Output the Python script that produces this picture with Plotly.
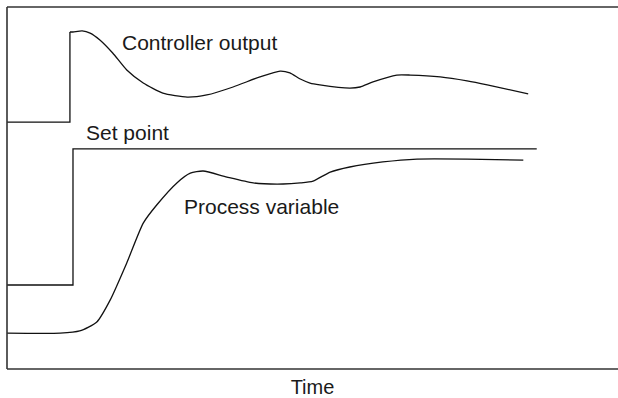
import plotly.graph_objects as go

# Controller output: step then a damped wave
co_step_t = [0, 10.3, 10.3]
co_step_y = [68.2, 68.2, 93.1]
co_t = [10.3, 10.8, 12.3, 13.6, 15.2, 17.3, 19.6, 22.3, 25.5, 29.5, 32.7, 37.0, 41.4, 44.7,
        46.3, 48.0, 49.6, 51.2, 56.1, 57.8, 59.9, 63.8, 66.0, 70.9, 75.3, 78.6, 85.3]
co_y = [93.1, 93.1, 93.4, 92.8, 90.9, 87.3, 82.6, 79.0, 76.2, 75.1, 75.7, 77.9, 80.7, 82.3,
        81.8, 80.1, 79.0, 78.5, 77.6, 77.9, 79.3, 81.2, 81.2, 80.7, 79.6, 78.5, 76.0]

# Set point: a single step
sp_t = [0, 10.8, 10.8, 86.7]
sp_y = [23.2, 23.2, 60.8, 60.8]

# Process variable response
pv_t = [0, 8.7, 11.9, 14.7, 16.9, 19.6, 22.3, 24.5, 27.8, 30.0, 32.1, 36.0, 40.3, 45.2,
        48.0, 50.1, 52.9, 56.1, 61.5, 67.1, 75.3, 84.5]
pv_y = [9.9, 9.9, 10.5, 13.0, 19.1, 29.3, 40.3, 45.3, 51.4, 54.1, 54.7, 53.0, 51.4, 51.1,
        51.4, 51.9, 54.4, 55.8, 57.2, 58.0, 58.0, 57.7]

line = dict(color="#111111", width=1.3)

fig = go.Figure()
fig.add_trace(go.Scatter(x=co_step_t, y=co_step_y, mode="lines", line=line))
fig.add_trace(go.Scatter(x=co_t, y=co_y, mode="lines", line=dict(line, shape="spline", smoothing=0.6)))
fig.add_trace(go.Scatter(x=sp_t, y=sp_y, mode="lines", line=line))
fig.add_trace(go.Scatter(x=pv_t, y=pv_y, mode="lines", line=dict(line, shape="spline", smoothing=0.6)))

labels = [("Controller output", 18.5, 90.1), ("Set point", 12.6, 65.2), ("Process variable", 28.6, 44.8)]
for txt, lx, ly in labels:
    fig.add_annotation(x=lx, y=ly, text=txt, showarrow=False, xanchor="left", yanchor="middle",
                       font=dict(size=21, color="#1a1a1a"))

# open frame: left, top and bottom only
frame = dict(color="#333333", width=1.6)
fig.add_shape(type="line", xref="paper", yref="paper", x0=0, x1=1, y0=1, y1=1, line=frame)
fig.add_shape(type="line", xref="paper", yref="paper", x0=0, x1=1, y0=0, y1=0, line=frame)
fig.add_shape(type="line", xref="paper", yref="paper", x0=0, x1=0, y0=0, y1=1, line=frame)

fig.update_layout(
    width=618, height=398,
    margin=dict(l=7, r=0, t=7, b=29),
    paper_bgcolor="white", plot_bgcolor="white",
    showlegend=False,
    font=dict(family="Liberation Sans, Arial, sans-serif", color="#1a1a1a"),
    xaxis=dict(range=[0, 100], showgrid=False, zeroline=False, showticklabels=False, ticks="",
               showline=False, title=dict(text="Time", font=dict(size=20), standoff=12)),
    yaxis=dict(range=[0, 100], showgrid=False, zeroline=False, showticklabels=False, ticks="",
               showline=False),
)

# drop the default 8px body margin so the figure fills the window exactly
page_fix = ("document.body.style.margin='0px';"
            "document.body.style.overflow='hidden';"
            "document.documentElement.style.overflow='hidden';")
fig.write_html("out.html", config={"displayModeBar": False}, post_script=page_fix)
